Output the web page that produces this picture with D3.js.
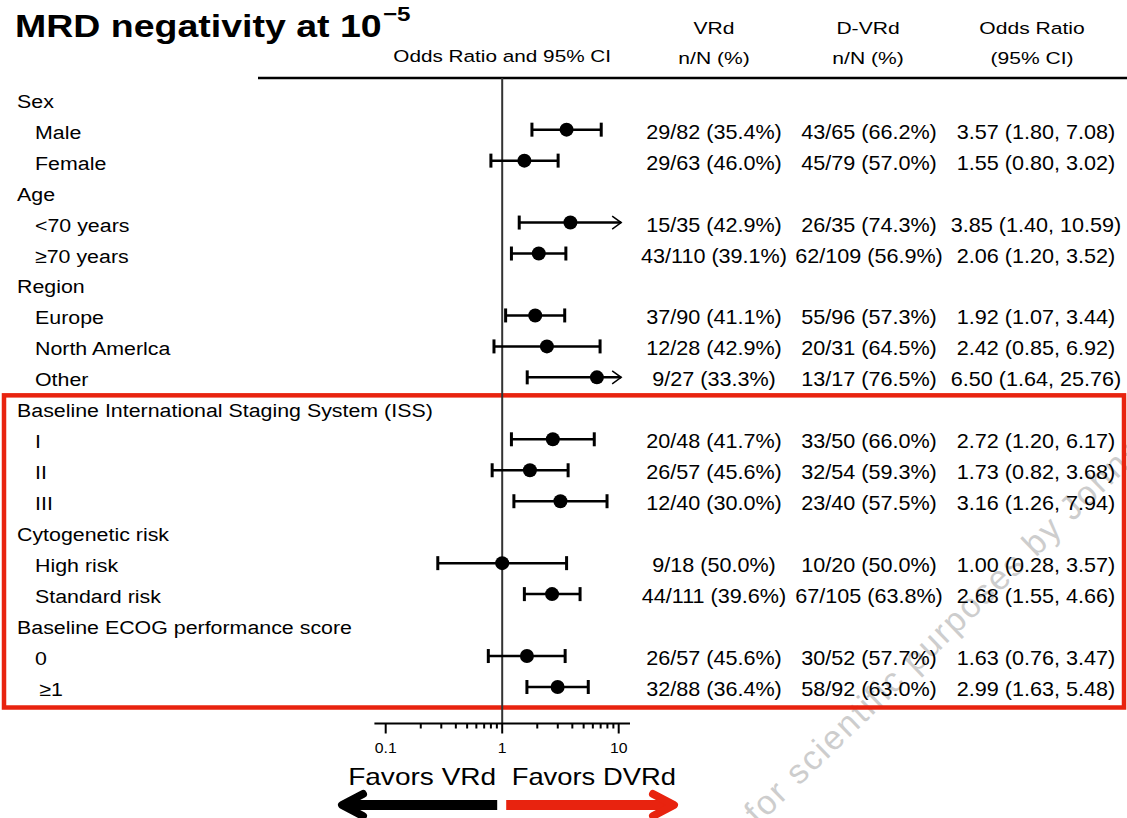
<!DOCTYPE html>
<html>
<head>
<meta charset="utf-8">
<script src="https://cdn.jsdelivr.net/npm/d3@7"></script>
<style>
  html, body { margin: 0; padding: 0; background: #fff; }
  svg { display: block; font-family: "Liberation Sans", Arial, sans-serif; }
</style>
</head>
<body>
<svg id="chart" width="1127" height="818"></svg>
<script>
// ---------------- data ----------------
const labels = ["Sex","Male","Female","Age","<70 years","\u226570 years","Region","Europe","North Amerlca","Other",
  "Baseline International Staging System (ISS)","I","II","III","Cytogenetic risk","High risk","Standard risk",
  "Baseline ECOG performance score","0","\u2009\u22651"];
const isGroup = [1,0,0,1,0,0,1,0,0,0,1,0,0,0,1,0,0,1,0,0];
const vrdText = [null,"29/82 (35.4%)","29/63 (46.0%)",null,"15/35 (42.9%)","43/110 (39.1%)",null,"37/90 (41.1%)","12/28 (42.9%)","9/27 (33.3%)",
  null,"20/48 (41.7%)","26/57 (45.6%)","12/40 (30.0%)",null,"9/18 (50.0%)","44/111 (39.6%)",null,"26/57 (45.6%)","32/88 (36.4%)"];
const dvrdText = [null,"43/65 (66.2%)","45/79 (57.0%)",null,"26/35 (74.3%)","62/109 (56.9%)",null,"55/96 (57.3%)","20/31 (64.5%)","13/17 (76.5%)",
  null,"33/50 (66.0%)","32/54 (59.3%)","23/40 (57.5%)",null,"10/20 (50.0%)","67/105 (63.8%)",null,"30/52 (57.7%)","58/92 (63.0%)"];
const oddsRatio = [null,3.57,1.55,null,3.85,2.06,null,1.92,2.42,6.50,null,2.72,1.73,3.16,null,1.00,2.68,null,1.63,2.99];
const ciLow  = [null,1.80,0.80,null,1.40,1.20,null,1.07,0.85,1.64,null,1.20,0.82,1.26,null,0.28,1.55,null,0.76,1.63];
const ciHigh = [null,7.08,3.02,null,10.59,3.52,null,3.44,6.92,25.76,null,6.17,3.68,7.94,null,3.57,4.66,null,3.47,5.48];
const tickValues = [0.1, 1, 10];
const tickLabels = ["0.1", "1", "10"];
const headers = [["VRd","n/N (%)"],["D-VRd","n/N (%)"],["Odds Ratio","(95% CI)"]];
const watermark = "for scientific purposes by Johnson & Johnson";

// ---------------- layout ----------------
const svg = d3.select("#chart");
const RED = "#e8230f";
const x = d3.scaleLog().domain([0.1, 10]).range([385.7, 618.7]);
const xClipMax = 10.5;
const y = d3.scaleLinear().domain([0, labels.length - 1]).range([100.7, 689]);
const colVRd = 714, colDVRd = 869, colOR = 1036;
const hdrCols = [714, 868, 1032];

function txt(g, px, py, s, o) {
  return g.append("text")
    .attr("transform", `translate(${px},${py}) scale(${o.sx || 1},1)`)
    .attr("text-anchor", o.anchor || "start")
    .style("font-size", o.size + "px")
    .style("font-weight", o.weight || "normal")
    .style("fill", o.fill || "#000")
    .text(s);
}

// watermark
svg.append("text")
  .attr("transform", "translate(758,826) rotate(-44)")
  .style("font-size", "34px")
  .style("letter-spacing", "2px")
  .style("fill", "#cdcdcd")
  .text(watermark);

// title
const title = svg.append("text")
  .attr("transform", "translate(15,37) scale(1.21,1)")
  .style("font-size", "31px").style("font-weight", "bold");
title.append("tspan").text("MRD negativity at 10");
title.append("tspan").attr("dy", -16).attr("dx", 1).style("font-size", "20px").text("\u22125");

txt(svg, x(1), 62, "Odds Ratio and 95% CI", {size: 17, sx: 1.22, anchor: "middle"});
headers.forEach((h, i) => {
  txt(svg, hdrCols[i], 34, h[0], {size: 17, sx: 1.24, anchor: "middle"});
  txt(svg, hdrCols[i], 64, h[1], {size: 17, sx: 1.24, anchor: "middle"});
});

// header line
svg.append("line").attr("x1", 258).attr("x2", 1127).attr("y1", 78).attr("y2", 78)
  .attr("stroke", "#000").attr("stroke-width", 2.5);

// red box
svg.append("rect").attr("x", 4).attr("y", y(9.5) + 0.5).attr("width", 1120).attr("height", 707.5 - (y(9.5) + 0.5))
  .attr("fill", "none").attr("stroke", RED).attr("stroke-width", 4.5);

// reference line at OR = 1
const axisY = 723.5;
svg.append("line").attr("x1", x(1)).attr("x2", x(1)).attr("y1", 78).attr("y2", axisY)
  .attr("stroke", "#333").attr("stroke-width", 2);

// labels + table text
const rows = svg.append("g");
labels.forEach((lab, i) => {
  const by = y(i) + 7;
  txt(rows, isGroup[i] ? 17 : 35, by, lab, {size: 19, sx: 1.125});
  if (!isGroup[i]) {
    txt(rows, colVRd, by, vrdText[i], {size: 20, sx: 1.08, anchor: "middle"});
    txt(rows, colDVRd, by, dvrdText[i], {size: 20, sx: 1.08, anchor: "middle"});
    const s = `${oddsRatio[i].toFixed(2)} (${ciLow[i].toFixed(2)}, ${ciHigh[i].toFixed(2)})`;
    txt(rows, colOR, by, s, {size: 20, sx: 1.08, anchor: "middle"});
  }
});

// forest marks
const marks = svg.append("g");
labels.forEach((lab, i) => {
  if (isGroup[i]) return;
  const cy = y(i) - 2;
  const clipped = ciHigh[i] > xClipMax;
  const xl = x(ciLow[i]);
  const xh = x(Math.min(ciHigh[i], xClipMax));
  marks.append("line").attr("x1", xl).attr("x2", xh).attr("y1", cy).attr("y2", cy)
    .attr("stroke", "#000").attr("stroke-width", 2.5);
  marks.append("line").attr("x1", xl).attr("x2", xl).attr("y1", cy - 7).attr("y2", cy + 7)
    .attr("stroke", "#000").attr("stroke-width", 3);
  if (clipped) {
    marks.append("polyline")
      .attr("points", `${xh - 9},${cy - 6.5} ${xh},${cy} ${xh - 9},${cy + 6.5}`)
      .attr("fill", "none").attr("stroke", "#000").attr("stroke-width", 1.5);
  } else {
    marks.append("line").attr("x1", xh).attr("x2", xh).attr("y1", cy - 7).attr("y2", cy + 7)
      .attr("stroke", "#000").attr("stroke-width", 3);
  }
  marks.append("circle").attr("cx", x(oddsRatio[i])).attr("cy", cy).attr("r", 7).attr("fill", "#000");
});

// axis
const ax = svg.append("g");
const axDomain = [0.08, 12.5];
ax.append("line").attr("x1", x(axDomain[0])).attr("x2", x(axDomain[1])).attr("y1", axisY).attr("y2", axisY)
  .attr("stroke", "#000").attr("stroke-width", 2);
const minor = [];
[0.1, 1].forEach(d => { for (let k = 2; k <= 9; k++) minor.push(d * k); });
ax.selectAll("line.minor").data(minor).join("line").attr("class", "minor")
  .attr("x1", d => x(d)).attr("x2", d => x(d)).attr("y1", axisY).attr("y2", axisY + 5)
  .attr("stroke", "#000").attr("stroke-width", 2);
ax.selectAll("line.major").data(tickValues).join("line").attr("class", "major")
  .attr("x1", d => x(d)).attr("x2", d => x(d)).attr("y1", axisY).attr("y2", axisY + 10)
  .attr("stroke", "#000").attr("stroke-width", 2);
tickValues.forEach((v, i) => txt(ax, x(v), 753, tickLabels[i], {size: 14, sx: 1.13, anchor: "middle"}));

// favors labels
txt(svg, x(1) - 6, 785, "Favors VRd", {size: 23, sx: 1.22, anchor: "end"});
txt(svg, x(1) + 9.5, 785, "Favors DVRd", {size: 23, sx: 1.19, anchor: "start"});

// arrows
const arY = 805;
const blackL = 342, blackR = x(1) - 5;
svg.append("line").attr("x1", blackL + 4).attr("x2", blackR).attr("y1", arY).attr("y2", arY)
  .attr("stroke", "#000").attr("stroke-width", 10);
svg.append("polyline").attr("points", `${blackL + 21},${arY - 11} ${blackL},${arY} ${blackL + 21},${arY + 11}`)
  .attr("fill", "none").attr("stroke", "#000").attr("stroke-width", 8).attr("stroke-linecap", "round").attr("stroke-linejoin", "round");
const redL = x(1) + 4, redR = 674;
svg.append("line").attr("x1", redL).attr("x2", redR - 4).attr("y1", arY).attr("y2", arY)
  .attr("stroke", RED).attr("stroke-width", 10);
svg.append("polyline").attr("points", `${redR - 21},${arY - 11} ${redR},${arY} ${redR - 21},${arY + 11}`)
  .attr("fill", "none").attr("stroke", RED).attr("stroke-width", 8).attr("stroke-linecap", "round").attr("stroke-linejoin", "round");
</script>
</body>
</html>
